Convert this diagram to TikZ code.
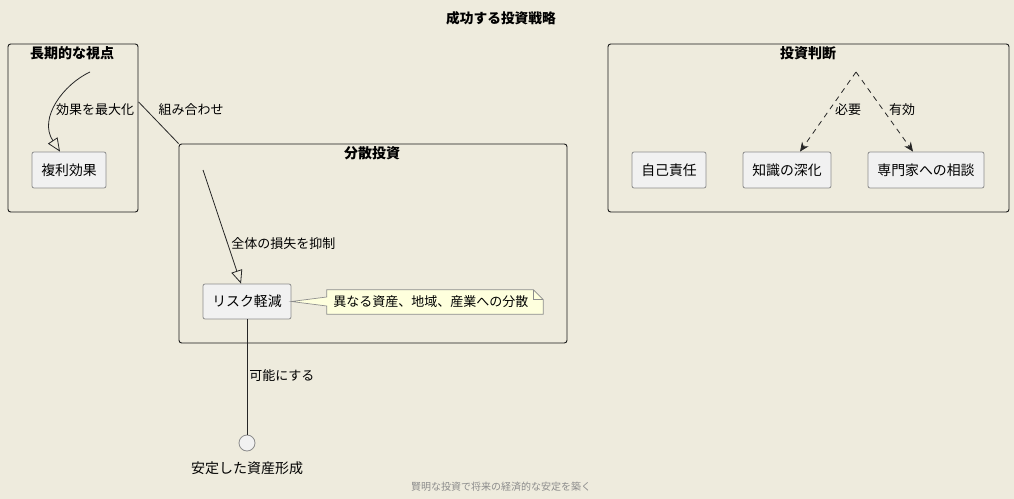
\documentclass[tikz,border=0pt]{standalone}
\usepackage{fontspec}
\setmainfont{Noto Sans CJK JP}
\usetikzlibrary{arrows.meta,calc}
\definecolor{bg}{RGB}{238,235,221}
\definecolor{nodefill}{RGB}{241,241,241}
\definecolor{nodeline}{RGB}{140,140,140}
\definecolor{notefill}{RGB}{254,255,221}
\definecolor{footgray}{RGB}{140,140,140}
\tikzset{
  pkg/.style={draw=black!90, line width=0.7pt, rounded corners=2pt, inner sep=0pt},
  pkgtitle/.style={font=\fontsize{10.5}{12}\selectfont\bfseries, inner sep=0pt},
  box/.style={draw=nodeline, fill=nodefill, line width=0.6pt, rounded corners=1.5pt, inner sep=0pt, minimum height=27pt, font=\fontsize{10.4}{12}\selectfont},
  lbl/.style={font=\fontsize{9.75}{11}\selectfont, inner sep=0pt},
  conn/.style={draw=black!85, line width=0.6pt},
  ext/.style={conn, -{Triangle[open,length=10pt,width=8.5pt]}},
  dep/.style={conn, dash pattern=on 4pt off 3.5pt, -{Stealth[length=7pt,width=6pt]}},
}
\begin{document}
\begin{tikzpicture}[x=0.75pt,y=-0.75pt]
\fill[bg] (0,0) rectangle (1014,499);
\useasboundingbox (0,0) rectangle (1014,499);

\node[font=\fontsize{10.3}{12}\selectfont\bfseries, inner sep=0pt] (title) at (501,18) {成功する投資戦略};

% package 1
\node[pkg, minimum width=97.5pt, minimum height=126pt] (p1) at (73,128) {};
\node[pkgtitle] (p1t) at (72,53) {長期的な視点};
\node[box, minimum width=55.5pt] (fukuri) at (69,170) {複利効果};
\coordinate (c1) at (90,72);
\draw[ext] (c1) .. controls (64,84) and (38,118) .. (fukuri.north -| 60,0);
\node[lbl] (l1) at (95,110) {効果を最大化};

% package 2
\node[pkg, minimum width=291pt, minimum height=149.25pt] (p2) at (373,243.5) {};
\node[pkgtitle] (p2t) at (372,153) {分散投資};
\node[box, minimum width=66pt, minimum height=26.25pt] (risk) at (247,301.5) {リスク軽減};
\coordinate (c2) at (203,170);
\draw[ext] (c2) -- (risk.north -| 241,0);
\node[lbl, anchor=west] (l2) at (231,244) {全体の損失を抑制};

% note
\node[inner sep=0pt, minimum width=162pt, minimum height=18pt] (note) at (435,302) {};
\filldraw[draw=nodeline, fill=notefill, line width=0.5pt]
  (note.north west) -- ($(note.north east)+(-10,0)$) -- ($(note.north east)+(0,10)$) -- (note.south east) -- (note.south west) -- ($(note.west)+(0,4)$) -- (risk.east) -- ($(note.west)+(0,-5)$) -- cycle;
\draw[draw=nodeline, line width=0.5pt] ($(note.north east)+(-10,0)$) -- ($(note.north east)+(-10,10)$) -- ($(note.north east)+(0,10)$);
\node[font=\fontsize{9.75}{11}\selectfont, inner sep=0pt, anchor=west] (notet) at (333,302) {異なる資産、地域、産業への分散};

% combine link
\draw[conn] ($(p1.north east)!0.345!(p1.south east)$) -- (p2.north west);
\node[lbl] (l3) at (191,110) {組み合わせ};

% final
\node[circle, draw=nodeline, fill=nodefill, line width=0.6pt, minimum size=12pt, inner sep=0pt] (stable) at (247,443) {};
\node[font=\fontsize{10.5}{12}\selectfont, inner sep=0pt] (stablet) at (247,468) {安定した資産形成};
\draw[conn] (risk.south) -- (stable.north);
\node[lbl, anchor=west] (l4) at (249,376) {可能にする};

% package 3
\node[pkg, minimum width=300.75pt, minimum height=126pt] (p3) at (808.5,128) {};
\node[pkgtitle] (p3t) at (808,53) {投資判断};
\node[box, minimum width=55.5pt] (jiko) at (669,170) {自己責任};
\node[box, minimum width=66pt] (chishiki) at (787,170) {知識の深化};
\node[box, minimum width=87pt] (senmon) at (926,170) {専門家への相談};
\coordinate (c3) at (856,72);
\draw[dep] (c3) -- (chishiki.north -| 800,0);
\draw[dep] (c3) -- (senmon.north -| 913,0);
\node[lbl] (l5) at (848,110) {必要};
\node[lbl] (l6) at (902,110) {有効};

\node[font=\fontsize{7.5}{9}\selectfont, text=footgray, inner sep=0pt] (foot) at (501,487) {賢明な投資で将来の経済的な安定を築く};
\end{tikzpicture}
\end{document}
